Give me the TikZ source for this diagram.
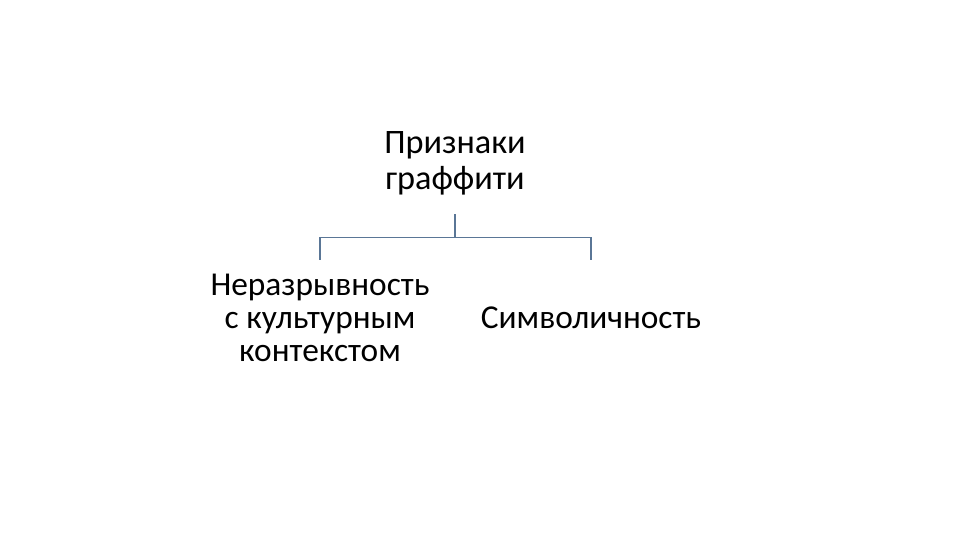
\documentclass[tikz,border=0pt]{standalone}
\usepackage{fontspec}
\setmainfont{Carlito}
\usepackage{xcolor}
\definecolor{branchblue}{RGB}{90,118,150}
\tikzset{
  label/.style={align=center, font=\fontsize{19}{18.8}\selectfont, inner sep=0pt},
  branch/.style={draw=branchblue, line width=0.6pt}
}

\begin{document}
\begin{tikzpicture}[x=0.02cm, y=-0.02cm]
  \useasboundingbox (0,0) rectangle (960,540);
  \node[label, font=\fontsize{19.5}{20.5}\selectfont, minimum height=2.04cm] (signs) at (455,163) {Признаки\\граффити};
  \node[label, minimum height=2.32cm] (continuity) at (320,318) {Неразрывность\\с культурным\\контекстом};
  \node[label, minimum height=2.32cm] (symbolism) at (591,318) {Символичность};
  \draw[branch] (signs.south) -- ++(0,23) coordinate (fork);
  \draw[branch] (continuity.north) |- (fork) -| (symbolism.north);
\end{tikzpicture}
\end{document}
